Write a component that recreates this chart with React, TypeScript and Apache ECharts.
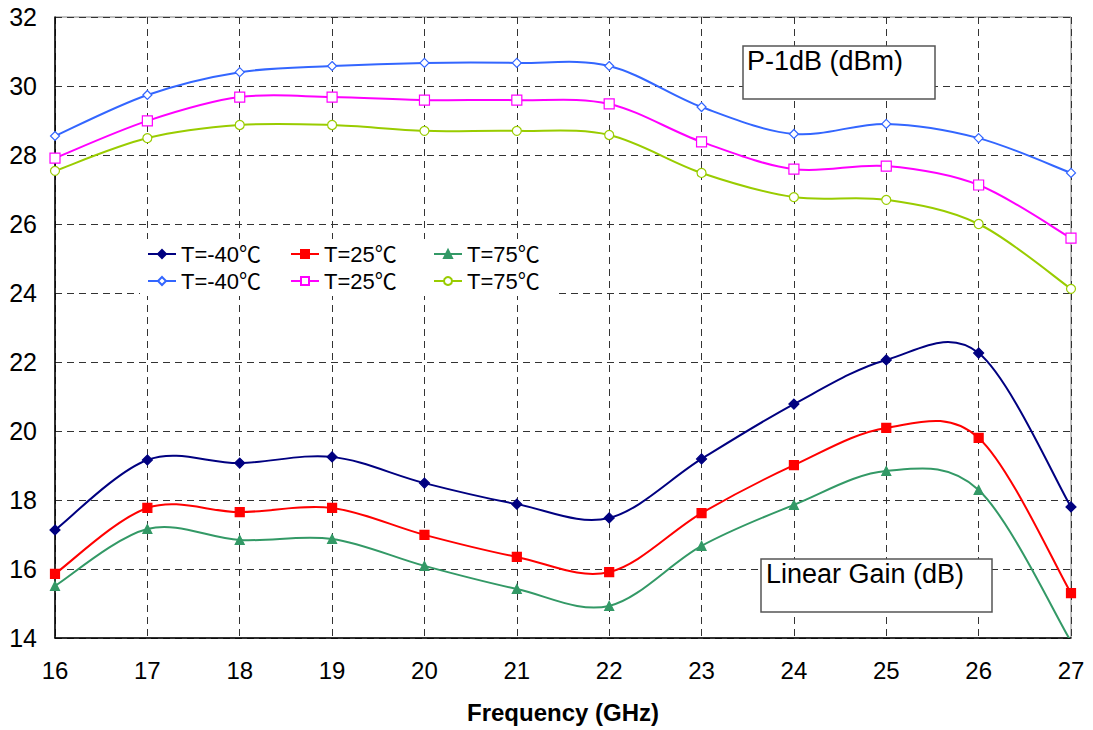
import React, { useEffect, useRef } from "react";
import * as echarts from "echarts";

// Frequency points (GHz)
const freqGHz = [16, 17, 18, 19, 20, 21, 22, 23, 24, 25, 26, 27];

// Linear gain (dB)
const gainM40 = [17.13, 19.16, 19.07, 19.25, 18.49, 17.88, 17.48, 19.19, 20.78, 22.06, 22.26, 17.8];
const gain25 = [15.86, 17.77, 17.65, 17.77, 16.99, 16.35, 15.91, 17.62, 19.01, 20.09, 19.8, 15.3];
const gain75 = [15.51, 17.16, 16.84, 16.87, 16.09, 15.42, 14.93, 16.67, 17.86, 18.84, 18.29, 13.9];

// Output P-1dB (dBm)
const p1dbM40 = [28.55, 29.74, 30.4, 30.58, 30.67, 30.67, 30.58, 29.39, 28.61, 28.9, 28.49, 27.48];
const p1db25 = [27.91, 28.99, 29.68, 29.68, 29.59, 29.59, 29.48, 28.38, 27.59, 27.68, 27.13, 25.59];
const p1db75 = [27.54, 28.49, 28.87, 28.87, 28.7, 28.7, 28.58, 27.48, 26.78, 26.7, 26.0, 24.12];

const tempLabels = ["T=-40℃", "T=25℃", "T=75℃"];
const xAxisTitle = "Frequency (GHz)";
const p1dbTitle = "P-1dB (dBm)";
const gainTitle = "Linear Gain (dB)";

const FONT = 'Arial, "Liberation Sans", sans-serif';
const LEGEND_FONT = 'Arial, "Liberation Sans", "Noto Sans CJK SC", sans-serif';

const pairs = (vals: number[]) => freqGHz.map((f, i) => [f, vals[i]]);

// Catmull-Rom style smoothed segment from point i to point i+1,
// drawn as a cubic bezier in pixel space.
function smoothSegment(color: string) {
  return (params: any, api: any) => {
    const i = params.dataIndexInside;
    const n = params.dataInsideLength;
    if (i >= n - 1) return null;
    const pt = (k: number) => {
      const idx = Math.max(0, Math.min(n - 1, k));
      return api.coord([api.value(0, idx), api.value(1, idx)]);
    };
    const p0 = pt(i - 1);
    const p1 = pt(i);
    const p2 = pt(i + 1);
    const p3 = pt(i + 2);
    return {
      type: "bezierCurve",
      shape: {
        x1: p1[0],
        y1: p1[1],
        x2: p2[0],
        y2: p2[1],
        cpx1: p1[0] + (p2[0] - p0[0]) / 6,
        cpy1: p1[1] + (p2[1] - p0[1]) / 6,
        cpx2: p2[0] - (p3[0] - p1[0]) / 6,
        cpy2: p2[1] - (p3[1] - p1[1]) / 6,
      },
      style: { stroke: color, lineWidth: 2, fill: "none" },
    };
  };
}

export default function App() {
  const ref = useRef<HTMLDivElement>(null);

  useEffect(() => {
    document.body.style.margin = "0";
    if (!ref.current) return;
    const chart = echarts.init(ref.current, undefined, { renderer: "svg" });

    const seriesDefs = [
      { name: "Gain " + tempLabels[0], label: tempLabels[0], data: gainM40, color: "#000080", symbol: "diamond", size: 10, fill: "#000080" },
      { name: "Gain " + tempLabels[1], label: tempLabels[1], data: gain25, color: "#FF0000", symbol: "rect", size: 9, fill: "#FF0000" },
      { name: "Gain " + tempLabels[2], label: tempLabels[2], data: gain75, color: "#339966", symbol: "triangle", size: 9, fill: "#339966" },
      { name: "P1dB " + tempLabels[0], label: tempLabels[0], data: p1dbM40, color: "#3366FF", symbol: "diamond", size: 9, fill: "#FFFFFF" },
      { name: "P1dB " + tempLabels[1], label: tempLabels[1], data: p1db25, color: "#FF00FF", symbol: "rect", size: 10, fill: "#FFFFFF" },
      { name: "P1dB " + tempLabels[2], label: tempLabels[2], data: p1db75, color: "#99CC00", symbol: "circle", size: 9, fill: "#FFFFFF" },
    ];

    const legendCols = [147, 290, 433];
    const legendRows = [243, 270];

    const curveSeries = seriesDefs.map((s) => ({
      name: s.name + " curve",
      type: "custom",
      data: pairs(s.data),
      clip: true,
      renderItem: smoothSegment(s.color),
      z: 4,
      silent: true,
    }));

    const markerSeries = seriesDefs.map((s) => ({
      name: s.name,
      type: "line",
      data: pairs(s.data),
      symbol: s.symbol,
      symbolSize: s.size,
      showSymbol: true,
      clip: true,
      lineStyle: { color: s.color, width: 2, opacity: 0 },
      itemStyle: { color: s.fill, borderColor: s.color, borderWidth: 1.2 },
      z: 5,
    }));

    chart.setOption({
      animation: false,
      backgroundColor: "#FFFFFF",
      grid: {
        left: 55,
        top: 17,
        width: 1016,
        height: 621,
        show: true,
        borderColor: "#808080",
        borderWidth: 1,
        backgroundColor: "transparent",
      },
      xAxis: {
        type: "value",
        min: 16,
        max: 27,
        interval: 1,
        name: xAxisTitle,
        nameLocation: "middle",
        nameGap: 62,
        nameTextStyle: { fontFamily: FONT, fontSize: 24, fontWeight: "bold", color: "#000" },
        axisLine: { show: true, onZero: false, lineStyle: { color: "#000", width: 1.5 } },
        axisTick: { show: false },
        axisLabel: { fontFamily: FONT, fontSize: 24, color: "#000", margin: 20 },
        splitLine: { show: true, lineStyle: { color: "#333", type: [7, 5], width: 1 } },
      },
      yAxis: {
        type: "value",
        min: 14,
        max: 32,
        interval: 2,
        axisLine: { show: true, lineStyle: { color: "#000", width: 1.5 } },
        axisTick: { show: false },
        axisLabel: { fontFamily: FONT, fontSize: 25, color: "#000", margin: 18 },
        splitLine: { show: true, lineStyle: { color: "#333", type: [7, 5], width: 1 } },
      },
      legend: seriesDefs.map((s, i) => ({
        data: [s.name],
        left: legendCols[i % 3],
        top: legendRows[Math.floor(i / 3)],
        padding: 0,
        itemWidth: 28,
        itemHeight: 10,
        selectedMode: false,
        formatter: () => s.label,
        lineStyle: { opacity: 1, width: 2 },
        textStyle: { fontFamily: LEGEND_FONT, fontSize: 22, color: "#000" },
      })),
      graphic: [
        {
          type: "rect",
          z: 3,
          shape: { x: 140, y: 239, width: 415, height: 57 },
          style: { fill: "#FFFFFF", stroke: "none" },
        },
        {
          type: "rect",
          z: 10,
          shape: { x: 743, y: 46, width: 192, height: 53 },
          style: { fill: "#FFFFFF", stroke: "#555", lineWidth: 1.5 },
        },
        {
          type: "text",
          z: 11,
          x: 747,
          y: 47,
          style: { text: p1dbTitle, font: `27px ${FONT}`, fill: "#000", textAlign: "left", textVerticalAlign: "top" },
        },
        {
          type: "rect",
          z: 10,
          shape: { x: 761, y: 559, width: 231, height: 53 },
          style: { fill: "#FFFFFF", stroke: "#555", lineWidth: 1.5 },
        },
        {
          type: "text",
          z: 11,
          x: 766,
          y: 560,
          style: { text: gainTitle, font: `27px ${FONT}`, fill: "#000", textAlign: "left", textVerticalAlign: "top" },
        },
      ],
      series: [...curveSeries, ...markerSeries],
    });

    return () => chart.dispose();
  }, []);

  return <div ref={ref} style={{ width: 1093, height: 730 }} />;
}
